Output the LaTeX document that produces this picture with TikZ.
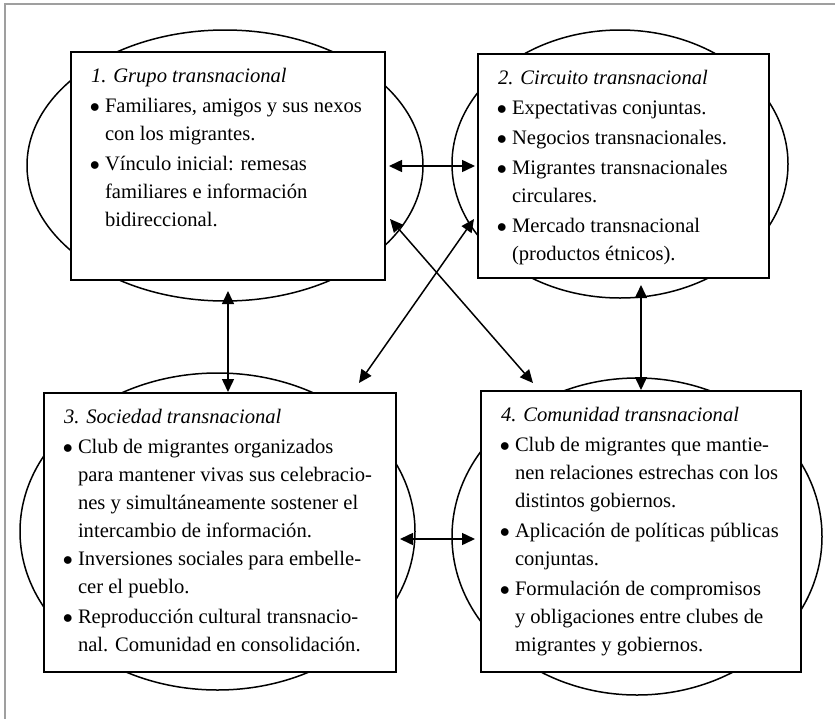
\documentclass[tikz,border=0pt]{standalone}
\usepackage{fontspec}
\setmainfont{Liberation Serif}
\usepackage{tikz}
\usetikzlibrary{calc,arrows.meta}

\newcommand{\caja}[3]{\parbox[c][#2][t]{#1}{#3}}
\newcommand{\pto}{\hspace*{-0.6pt}$\bullet$}

\begin{document}
\begin{tikzpicture}[x=0.5pt,y=-0.5pt,
    caja/.style={draw,line width=1pt,fill=white,inner xsep=10pt,inner ysep=0pt,anchor=north west,
      font=\fontsize{10.3}{14}\selectfont},
    elipse/.style={line width=0.75pt},
    flecha/.style={line width=0.75pt,{Triangle[length=6.5pt,width=6pt]}-{Triangle[length=6.5pt,width=6pt]}},
    marco/.style={gray!75,line width=1pt}]
        \useasboundingbox (0,0) rectangle (835,718);

        % Marco
        \draw[marco] (5,725) |- (840,4);

        % Elipses
        \draw[elipse] (225,165.5) ellipse (198 and 135.5);
        \draw[elipse] (620,164) ellipse (168 and 134);
        \draw[elipse] (217.5,531.5) ellipse (197.5 and 158.5);
        \draw[elipse] (637,536.5) ellipse (185 and 158.5);

        % Cajas
        \node[caja] (g1) at (70,51) {\caja{137pt}{114pt}{%
          \begin{tabular}[t]{@{}p{7pt}@{}l@{}}
          \multicolumn{2}{@{}l@{}}{\rule{0pt}{15pt}\textit{1. Grupo transnacional}}\\[1pt]
          \pto & Familiares, amigos y sus nexos\\
           & con los migrantes.\\[1pt]
          \pto & Vínculo inicial: remesas\\
           & familiares e información\\
           & bidireccional.
          \end{tabular}}};

        \node[caja] (g2) at (477,53) {\caja{125.5pt}{112pt}{%
          \begin{tabular}[t]{@{}p{7pt}@{}l@{}}
          \multicolumn{2}{@{}l@{}}{\rule{0pt}{15pt}\textit{2. Circuito transnacional}}\\[1pt]
          \pto & Expectativas conjuntas.\\[1pt]
          \pto & Negocios transnacionales.\\[1pt]
          \pto & Migrantes transnacionales\\
           & circulares.\\[1pt]
          \pto & Mercado transnacional\\
           & (productos étnicos).
          \end{tabular}}};

        \node[caja] (g3) at (43,392) {\caja{156pt}{139.5pt}{%
          \begin{tabular}[t]{@{}p{7pt}@{}l@{}}
          \multicolumn{2}{@{}l@{}}{\rule{0pt}{15pt}\textit{3. Sociedad transnacional}}\\[1pt]
          \pto & Club de migrantes organizados\\
           & para mantener vivas sus celebracio-\\
           & nes y simultáneamente sostener el\\
           & intercambio de información.\\
          \pto & Inversiones sociales para embelle-\\
           & cer el pueblo.\\[1pt]
          \pto & Reproducción cultural transnacio-\\
           & nal. Comunidad en consolidación.
          \end{tabular}}};

        \node[caja] (g4) at (480,390) {\caja{140pt}{140.5pt}{%
          \begin{tabular}[t]{@{}p{7pt}@{}l@{}}
          \multicolumn{2}{@{}l@{}}{\rule{0pt}{15pt}\textit{4. Comunidad transnacional}}\\[1pt]
          \pto & Club de migrantes que mantie-\\
           & nen relaciones estrechas con los\\
           & distintos gobiernos.\\[1pt]
          \pto & Aplicación de políticas públicas\\
           & conjuntas.\\[1pt]
          \pto & Formulación de compromisos\\
           & y obligaciones entre clubes de\\
           & migrantes y gobiernos.
          \end{tabular}}};

        % Flechas
        \draw[flecha] ($(g1.east)+(3,0)$) -- ($(g2.west)+(-2,0)$);
        \draw[flecha] ($(g1.south)+(0,10)$) -- (g1.south |- g3.north);
        \draw[flecha] ($(g2.south -| g4.north)+(0,6)$) -- (g4.north);
        \draw[flecha] ($(g3.east)+(3,6.5)$) -- ($(g4.west)+(-5,7.5)$);
        \draw[flecha] ($(g1.south east)+(4,-62)$) -- ($(g4.north west)+(53,-7)$);
        \draw[flecha] ($(g2.south west)+(-3,-60)$) -- ($(g3.north east)+(-38,-9)$);
\end{tikzpicture}
\end{document}
